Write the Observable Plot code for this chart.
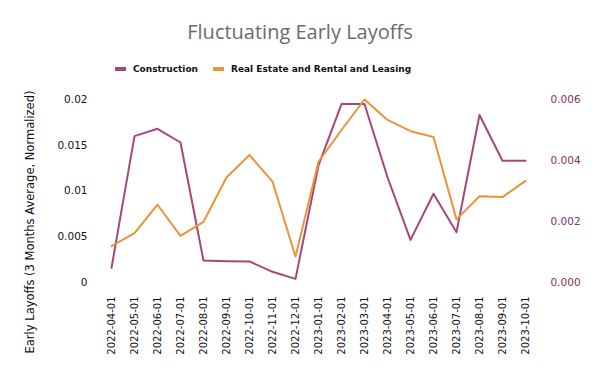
<!DOCTYPE html>
<html>
<head>
<meta charset="utf-8">
<script src="https://cdn.jsdelivr.net/npm/d3@7"></script>
<script src="https://cdn.jsdelivr.net/npm/@observablehq/plot@0.6"></script>
<style>
  body { margin: 0; background: #fff; width: 600px; height: 371px; position: relative; overflow: hidden; }
  #title { position: absolute; top: 18px; left: 0; width: 600px; text-align: center; font-family: "Open Sans", sans-serif; font-size: 20px; color: #6b6b6b; line-height: 28px; }
  #legend { position: absolute; top: 60px; left: 115px; display: flex; align-items: center; font-family: "DejaVu Sans", sans-serif; font-weight: bold; font-size: 9px; color: #111; line-height: 18px; }
  .sw { display: inline-block; width: 11px; height: 4px; margin-right: 7px; }
  #ylabel { position: absolute; left: 30px; top: 222px; transform: translate(-50%, -50%) rotate(-90deg); white-space: nowrap; font-family: "DejaVu Sans", sans-serif; font-size: 11.5px; color: #111; }
  #chart { position: absolute; top: 84px; left: 0; }
</style>
</head>
<body>
<div id="title">Fluctuating Early Layoffs</div>
<div id="legend"></div>
<div id="ylabel">Early Layoffs (3 Months Average, Normalized)</div>
<div id="chart"></div>
<script>
const months = ["2022-04-01","2022-05-01","2022-06-01","2022-07-01","2022-08-01","2022-09-01","2022-10-01","2022-11-01","2022-12-01","2023-01-01","2023-02-01","2023-03-01","2023-04-01","2023-05-01","2023-06-01","2023-07-01","2023-08-01","2023-09-01","2023-10-01"];
const construction = [0.0016,0.0160,0.0168,0.0153,0.0024,0.00233,0.0023,0.00117,0.0004,0.0128,0.0195,0.0195,0.0115,0.00466,0.0097,0.0055,0.0183,0.0133,0.0133];
const realEstate = [0.00119,0.00162,0.00255,0.00153,0.00199,0.00344,0.00418,0.00331,0.00085,0.00396,0.0050,0.0060,0.00533,0.00496,0.00477,0.00207,0.00283,0.0028,0.00333];
const seriesNames = ["Construction","Real Estate and Rental and Leasing"];
const seriesColors = ["#a5477b","#ea9337"];
const leftTicks = [0,0.005,0.01,0.015,0.02];
const rightTicks = [0,0.002,0.004,0.006];
const leftMax = 0.02, rightMax = 0.006;
const k = leftMax / rightMax;

const data = [
  ...months.map((m,i)=>({month:m, value:construction[i], series:seriesNames[0]})),
  ...months.map((m,i)=>({month:m, value:realEstate[i]*k, series:seriesNames[1]}))
];

const legend = document.getElementById("legend");
seriesNames.forEach((n,i)=>{
  const s = document.createElement("span"); s.className="sw"; s.style.background=seriesColors[i];
  const t = document.createElement("span"); t.textContent=n; t.style.marginRight = "15px";
  legend.appendChild(s); legend.appendChild(t);
});

const chart = Plot.plot({
  width: 600,
  height: 278,
  marginTop: 15,
  marginBottom: 80,
  marginLeft: 104,
  marginRight: 68,
  style: {fontFamily: "DejaVu Sans, sans-serif", fontSize: "10px", color: "#111", background: "transparent"},
  x: {type: "point", domain: months, padding: 0},
  y: {domain: [0, leftMax]},
  color: {domain: seriesNames, range: seriesColors},
  marks: [
    Plot.axisX({tickRotate: -90, tickSize: 0, tickPadding: 14, label: null, fontSize: 10}),
    Plot.axisY({anchor: "left", ticks: leftTicks, tickSize: 0, tickPadding: 17, tickFormat: d => String(d), label: null, fontSize: 10.5}),
    Plot.axisY({anchor: "right", ticks: rightTicks.map(v => v * k), tickSize: 0, tickPadding: 18, tickFormat: d => (d / k).toFixed(3), label: null, fill: "#8c2e5e", fontSize: 10.5}),
    Plot.line(data, {x: "month", y: "value", z: "series", stroke: "series", strokeWidth: 2})
  ]
});
document.getElementById("chart").appendChild(chart);
</script>
</body>
</html>
